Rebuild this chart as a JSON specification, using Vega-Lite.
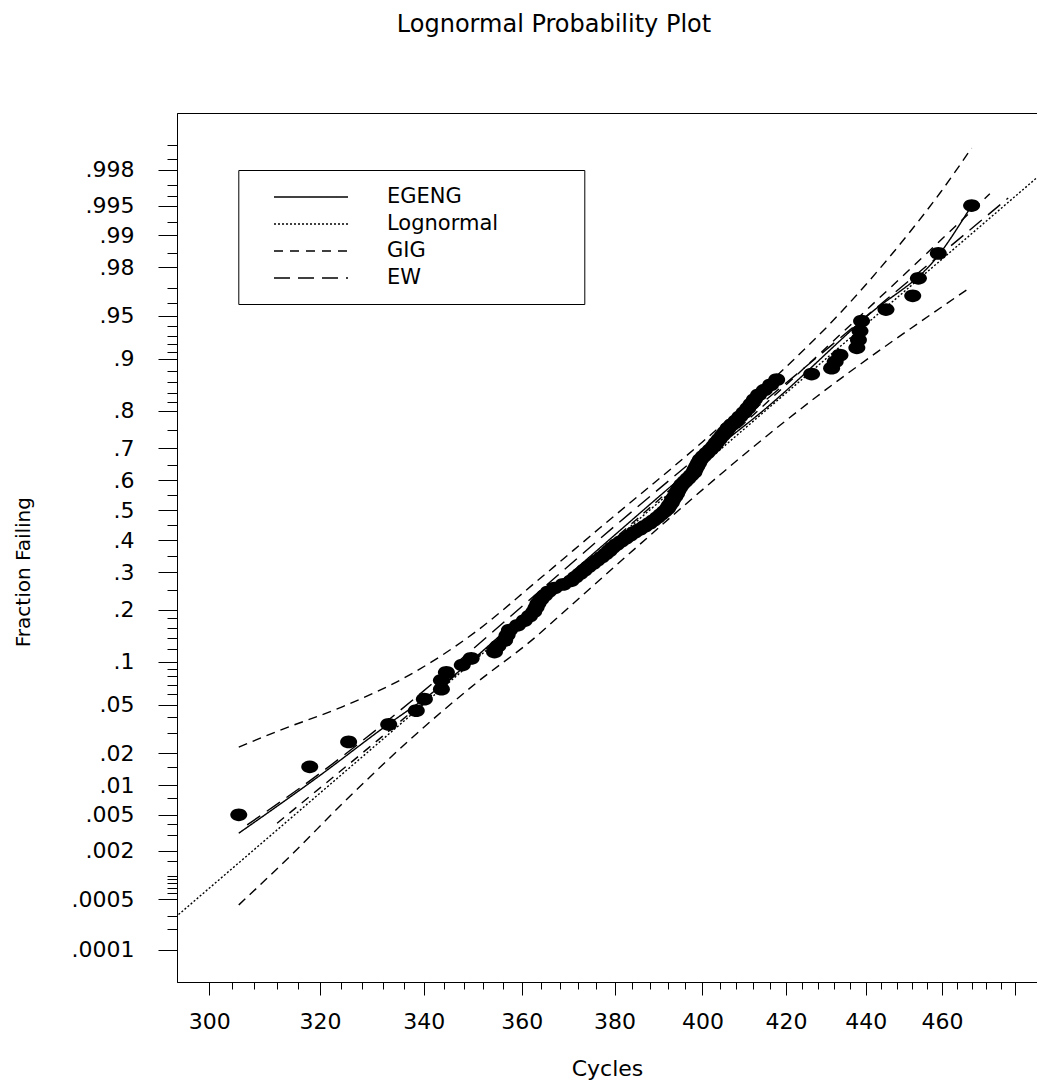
{
  "$schema": "https://vega.github.io/schema/vega-lite/v6.json",
  "width": 860,
  "height": 869,
  "autosize": {"type": "none"},
  "padding": {"left": 177, "top": 113, "right": 0, "bottom": 98},
  "background": "white",
  "title": {"text": "Lognormal Probability Plot", "font": "DejaVu Sans", "fontSize": 24, "fontWeight": "normal", "color": "black", "anchor": "middle", "dx": -53, "offset": 57, "baseline": "alphabetic"},
  "config": {
    "font": "DejaVu Sans",
    "view": {"stroke": "black", "strokeWidth": 1},
    "axis": {"domainColor": "black", "tickColor": "black", "labelColor": "black", "titleColor": "black", "grid": false, "domainWidth": 1, "tickWidth": 1, "labelFont": "DejaVu Sans", "titleFont": "DejaVu Sans", "titleFontWeight": "normal", "labelOverlap": false, "labelFlush": false}
  },
  "datasets": {
    "points": [
      {"cycles": 305.2, "z": -2.5758}, {"cycles": 318.1, "z": -2.1701}, {"cycles": 325.4, "z": -1.96}, {"cycles": 333.1, "z": -1.8119}, {"cycles": 338.5, "z": -1.6954},
      {"cycles": 340.1, "z": -1.5982}, {"cycles": 343.5, "z": -1.5141}, {"cycles": 343.5, "z": -1.4395}, {"cycles": 344.5, "z": -1.3722}, {"cycles": 347.7, "z": -1.3106},
      {"cycles": 349.5, "z": -1.2536}, {"cycles": 354.3, "z": -1.2004}, {"cycles": 355.0, "z": -1.1503}, {"cycles": 356.4, "z": -1.1031}, {"cycles": 356.9, "z": -1.0581},
      {"cycles": 357.4, "z": -1.0152}, {"cycles": 359.1, "z": -0.9741}, {"cycles": 360.5, "z": -0.9346}, {"cycles": 361.6, "z": -0.8965}, {"cycles": 362.5, "z": -0.8596},
      {"cycles": 363.0, "z": -0.8239}, {"cycles": 363.4, "z": -0.7892}, {"cycles": 364.0, "z": -0.7554}, {"cycles": 364.8, "z": -0.7225}, {"cycles": 365.6, "z": -0.6903},
      {"cycles": 366.9, "z": -0.6588}, {"cycles": 368.8, "z": -0.628}, {"cycles": 370.5, "z": -0.5978}, {"cycles": 371.4, "z": -0.5681}, {"cycles": 372.4, "z": -0.5388},
      {"cycles": 373.3, "z": -0.5101}, {"cycles": 374.2, "z": -0.4817}, {"cycles": 375.2, "z": -0.4538}, {"cycles": 376.1, "z": -0.4261}, {"cycles": 377.1, "z": -0.3989},
      {"cycles": 378.0, "z": -0.3719}, {"cycles": 378.8, "z": -0.3451}, {"cycles": 379.5, "z": -0.3186}, {"cycles": 380.4, "z": -0.2924}, {"cycles": 381.4, "z": -0.2663},
      {"cycles": 382.4, "z": -0.2404}, {"cycles": 383.4, "z": -0.2147}, {"cycles": 384.4, "z": -0.1891}, {"cycles": 385.6, "z": -0.1637}, {"cycles": 386.7, "z": -0.1383},
      {"cycles": 387.8, "z": -0.113}, {"cycles": 388.7, "z": -0.0878}, {"cycles": 389.6, "z": -0.0627}, {"cycles": 390.4, "z": -0.0376}, {"cycles": 391.2, "z": -0.0125},
      {"cycles": 391.9, "z": 0.0125}, {"cycles": 392.3, "z": 0.0376}, {"cycles": 392.8, "z": 0.0627}, {"cycles": 393.1, "z": 0.0878}, {"cycles": 393.6, "z": 0.113},
      {"cycles": 394.0, "z": 0.1383}, {"cycles": 394.3, "z": 0.1637}, {"cycles": 394.7, "z": 0.1891}, {"cycles": 395.2, "z": 0.2147}, {"cycles": 395.9, "z": 0.2404},
      {"cycles": 396.6, "z": 0.2663}, {"cycles": 397.3, "z": 0.2924}, {"cycles": 398.0, "z": 0.3186}, {"cycles": 398.3, "z": 0.3451}, {"cycles": 398.7, "z": 0.3719},
      {"cycles": 399.1, "z": 0.3989}, {"cycles": 399.5, "z": 0.4261}, {"cycles": 400.2, "z": 0.4538}, {"cycles": 401.0, "z": 0.4817}, {"cycles": 401.8, "z": 0.5101},
      {"cycles": 402.6, "z": 0.5388}, {"cycles": 403.2, "z": 0.5681}, {"cycles": 403.9, "z": 0.5978}, {"cycles": 404.6, "z": 0.628}, {"cycles": 405.3, "z": 0.6588},
      {"cycles": 406.0, "z": 0.6903}, {"cycles": 406.9, "z": 0.7225}, {"cycles": 407.9, "z": 0.7554}, {"cycles": 408.8, "z": 0.7892}, {"cycles": 409.8, "z": 0.8239},
      {"cycles": 410.7, "z": 0.8596}, {"cycles": 411.5, "z": 0.8965}, {"cycles": 412.3, "z": 0.9346}, {"cycles": 413.3, "z": 0.9741}, {"cycles": 414.7, "z": 1.0152},
      {"cycles": 416.2, "z": 1.0581}, {"cycles": 417.7, "z": 1.1031}, {"cycles": 426.3, "z": 1.1503}, {"cycles": 431.3, "z": 1.2004}, {"cycles": 432.2, "z": 1.2536},
      {"cycles": 433.4, "z": 1.3106}, {"cycles": 437.7, "z": 1.3722}, {"cycles": 438.1, "z": 1.4395}, {"cycles": 438.5, "z": 1.5141}, {"cycles": 438.9, "z": 1.5982},
      {"cycles": 445.2, "z": 1.6954}, {"cycles": 452.2, "z": 1.8119}, {"cycles": 453.7, "z": 1.96}, {"cycles": 459.0, "z": 2.1701}, {"cycles": 468.0, "z": 2.5758}
    ],
    "fits": [
      {"model": "EGENG", "cycles": 305.2, "z": -2.732}, {"model": "EGENG", "cycles": 319.3, "z": -2.2668}, {"model": "EGENG", "cycles": 333.3, "z": -1.8016},
      {"model": "EGENG", "cycles": 339.8, "z": -1.6045}, {"model": "EGENG", "cycles": 368.1, "z": -0.6115}, {"model": "EGENG", "cycles": 405.7, "z": 0.5946},
      {"model": "EGENG", "cycles": 413.7, "z": 0.8204}, {"model": "EGENG", "cycles": 440.2, "z": 1.6375}, {"model": "EGENG", "cycles": 459.5, "z": 2.1737},
      {"model": "EGENG", "cycles": 467.3, "z": 2.5399},
      {"model": "Lognormal", "cycles": 290.0, "z": -3.6182}, {"model": "Lognormal", "cycles": 490.0, "z": 2.9087},
      {"model": "GIG", "cycles": 312.1, "z": -2.6474}, {"model": "GIG", "cycles": 336.5, "z": -1.7457}, {"model": "GIG", "cycles": 399.5, "z": 0.4001}, {"model": "GIG", "cycles": 473.0, "z": 2.6753},
      {"model": "EW", "cycles": 306.7, "z": -2.6617}, {"model": "EW", "cycles": 316.3, "z": -2.3488}, {"model": "EW", "cycles": 388.0, "z": 0.118}, {"model": "EW", "cycles": 478.1, "z": 2.6389}
    ],
    "bands": [
      {"band": "upper", "cycles": 305.2, "z": -2.0046}, {"band": "upper", "cycles": 312.0, "z": -1.8726}, {"band": "upper", "cycles": 324.3, "z": -1.6612},
      {"band": "upper", "cycles": 337.2, "z": -1.393}, {"band": "upper", "cycles": 350.5, "z": -1.0268}, {"band": "upper", "cycles": 363.0, "z": -0.6064},
      {"band": "upper", "cycles": 376.8, "z": -0.1497}, {"band": "upper", "cycles": 399.5, "z": 0.5608}, {"band": "upper", "cycles": 421.4, "z": 1.2569},
      {"band": "upper", "cycles": 430.9, "z": 1.5757}, {"band": "upper", "cycles": 441.1, "z": 1.9479}, {"band": "upper", "cycles": 451.5, "z": 2.3539},
      {"band": "upper", "cycles": 459.5, "z": 2.6837}, {"band": "upper", "cycles": 468.0, "z": 3.0618},
      {"band": "lower", "cycles": 305.2, "z": -3.3384}, {"band": "lower", "cycles": 314.4, "z": -2.9299}, {"band": "lower", "cycles": 324.3, "z": -2.4782},
      {"band": "lower", "cycles": 337.2, "z": -1.9428}, {"band": "lower", "cycles": 350.5, "z": -1.4632}, {"band": "lower", "cycles": 363.0, "z": -1.0691},
      {"band": "lower", "cycles": 367.4, "z": -0.9135}, {"band": "lower", "cycles": 427.6, "z": 0.9608}, {"band": "lower", "cycles": 466.7, "z": 1.8633}
    ]
  },
  "layer": [
    {
      "data": {"name": "bands"},
      "mark": {"type": "line", "color": "black", "strokeWidth": 1.4, "strokeDash": [9, 6], "interpolate": "monotone"},
      "encoding": {
        "x": {
          "field": "cycles", "type": "quantitative",
          "scale": {"type": "log", "domain": [294.4, 486.2], "nice": false},
          "axis": {
            "title": "Cycles",
            "values": [300, 304, 308, 312, 316, 320, 324, 328, 332, 336, 340, 344, 348, 352, 356, 360, 364, 368, 372, 376, 380, 384, 388, 392, 396, 400, 404, 408, 412, 416, 420, 424, 428, 432, 436, 440, 444, 448, 452, 456, 460, 464, 468, 472, 476, 480],
            "tickCount": 1000,
            "labelExpr": "(datum.value % 20 === 0 && datum.value <= 460) ? format(datum.value, 'd') : ''",
            "tickSize": {"condition": {"test": "datum.value % 20 === 0", "value": 13}, "value": 7},
            "labelOverlap": false,
            "labelPadding": 16,
            "labelFontSize": 22,
            "titleFontSize": 22,
            "titleX": 430,
            "titleY": 93,
            "titleAlign": "center",
            "titleBaseline": "alphabetic"
          }
        },
        "y": {
          "field": "z", "type": "quantitative",
          "scale": {"domain": [-3.99, 3.358], "nice": false, "zero": false},
          "axis": {
            "title": "Fraction Failing",
            "values": [-3.71902, -3.54008, -3.43161, -3.29053, -3.23888, -3.19465, -3.15591, -3.12139, -3.09023, -2.96774, -2.87816, -2.74778, -2.65207, -2.57583, -2.43238, -2.32635, -2.17009, -2.05375, -1.88079, -1.75069, -1.64485, -1.55477, -1.47579, -1.40507, -1.34076, -1.28155, -1.17499, -1.08032, -0.99446, -0.91537, -0.84162, -0.67449, -0.5244, -0.38532, -0.25335, -0.12566, 0, 0.12566, 0.25335, 0.38532, 0.5244, 0.67449, 0.84162, 0.91537, 0.99446, 1.08032, 1.17499, 1.28155, 1.34076, 1.40507, 1.47579, 1.55477, 1.64485, 1.75069, 1.88079, 2.05375, 2.17009, 2.32635, 2.43238, 2.57583, 2.65207, 2.74778, 2.87816, 2.96774, 3.09023],
            "tickCount": 1000,
            "labelExpr": "indexof([-3.71902, -3.29053, -2.87816, -2.57583, -2.32635, -2.05375, -1.64485, -1.28155, -0.84162, -0.5244, -0.25335, 0, 0.25335, 0.5244, 0.84162, 1.28155, 1.64485, 2.05375, 2.32635, 2.57583, 2.87816], datum.value) >= 0 ? ['.0001', '.0005', '.002', '.005', '.01', '.02', '.05', '.1', '.2', '.3', '.4', '.5', '.6', '.7', '.8', '.9', '.95', '.98', '.99', '.995', '.998'][indexof([-3.71902, -3.29053, -2.87816, -2.57583, -2.32635, -2.05375, -1.64485, -1.28155, -0.84162, -0.5244, -0.25335, 0, 0.25335, 0.5244, 0.84162, 1.28155, 1.64485, 2.05375, 2.32635, 2.57583, 2.87816], datum.value)] : ''",
            "tickSize": {"condition": {"test": "indexof([-3.71902, -3.29053, -2.87816, -2.57583, -2.32635, -2.05375, -1.64485, -1.28155, -0.84162, -0.5244, -0.25335, 0, 0.25335, 0.5244, 0.84162, 1.28155, 1.64485, 2.05375, 2.32635, 2.57583, 2.87816], datum.value) >= 0", "value": 19}, "value": 10},
            "labelOverlap": false,
            "labelPadding": 24,
            "labelFontSize": 22,
            "titleFontSize": 20,
            "titleAngle": -90,
            "titleX": -154,
            "titleY": 458.6,
            "titleAlign": "center",
            "titleBaseline": "middle"
          }
        },
        "detail": {"field": "band", "type": "nominal"}
      }
    },
    {
      "data": {"name": "fits"},
      "mark": {"type": "line", "color": "black", "strokeWidth": 1.4, "clip": true, "interpolate": "monotone"},
      "encoding": {
        "x": {"field": "cycles", "type": "quantitative"},
        "y": {"field": "z", "type": "quantitative"},
        "strokeDash": {
          "field": "model", "type": "nominal",
          "scale": {"domain": ["EGENG", "Lognormal", "GIG", "EW"], "range": [[1, 0], [2, 2], [9, 7], [16, 8]]},
          "legend": {
            "orient": "none", "legendX": 61.3, "legendY": 57,
            "title": "\u00a0", "titleOrient": "right", "titleFontSize": 10, "titlePadding": 70,
            "padding": 16, "strokeColor": "black", "fillColor": "white",
            "symbolType": "M0.87,0H8.27", "symbolSize": 400, "symbolStrokeWidth": 1.5, "symbolStrokeColor": "black",
            "labelFont": "DejaVu Sans", "labelFontSize": 21, "labelColor": "black", "labelOffset": 110.7, "rowPadding": 6
          }
        }
      }
    },
    {
      "data": {"name": "points"},
      "mark": {"type": "point", "filled": true, "color": "black", "opacity": 1, "strokeWidth": 0, "shape": "M-1,0A1,0.75,0,1,1,1,0A1,0.75,0,1,1,-1,0Z", "size": 289},
      "encoding": {
        "x": {"field": "cycles", "type": "quantitative"},
        "y": {"field": "z", "type": "quantitative"}
      }
    }
  ]
}
